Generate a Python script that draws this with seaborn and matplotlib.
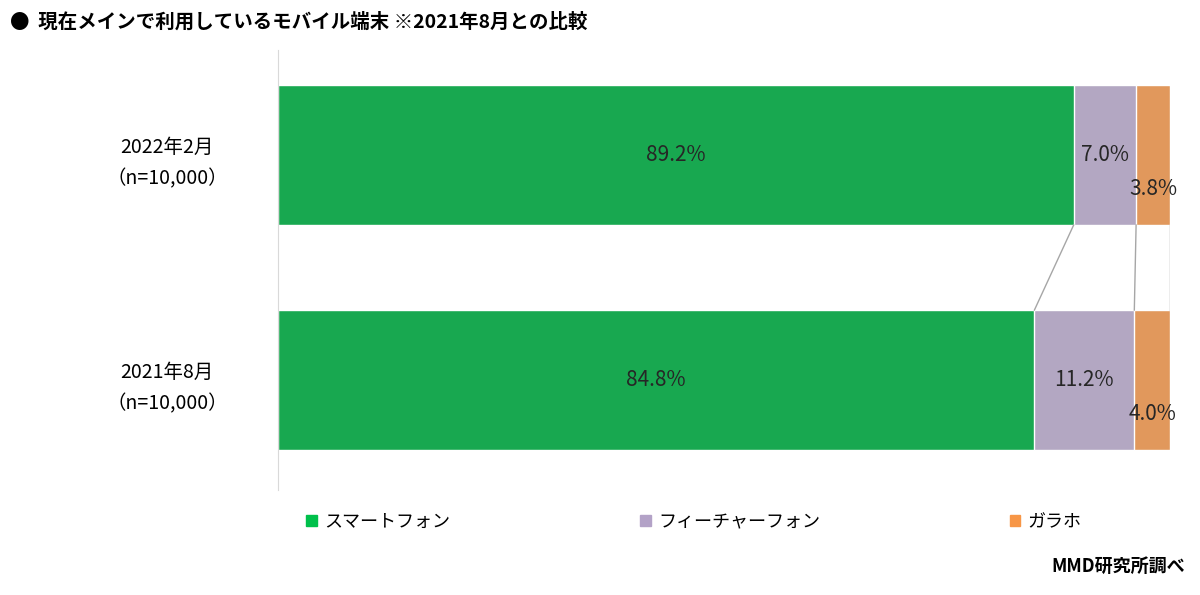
import numpy as np
import pandas as pd
import matplotlib.pyplot as plt
import seaborn as sns
from matplotlib.patches import Patch

plt.rcParams['font.family'] = 'Noto Sans CJK JP'

periods = ['2022年2月\n（n=10,000）', '2021年8月\n（n=10,000）']
devices = ['スマートフォン', 'フィーチャーフォン', 'ガラホ']
smartphone = [89.2, 84.8]
featurephone = [7.0, 11.2]
garaho = [3.8, 4.0]
colors = ['#00C04B', '#B3A2C7', '#F79646']

df = pd.DataFrame({'period': periods, devices[0]: smartphone,
                   devices[1]: featurephone, devices[2]: garaho})
vals = df[devices].to_numpy()
cum = vals.cumsum(axis=1)

fig = plt.figure(figsize=(12, 5.95), dpi=100)
ax = fig.add_axes([278/1200, 1-490/595, 892/1200, 440/595])

# stacked bars: draw the cumulative totals from the widest down
for j in reversed(range(len(devices))):
    sns.barplot(x=cum[:, j], y=df['period'], orient='h', color=colors[j],
                width=0.622, edgecolor='white', linewidth=1, ax=ax)

# connector lines between the two bars
for j in range(len(devices)):
    ax.plot([cum[0, j], cum[1, j]], [0.311, 1-0.311], color='#A6A6A6', lw=1)

for i in range(len(periods)):
    starts = cum[i] - vals[i]
    for j in range(len(devices)):
        dy = 0.15 if j == 2 else 0.0
        ax.text(starts[j] + vals[i, j]/2, i + dy, f'{vals[i, j]:.1f}%',
                ha='center', va='center', fontsize=15, color='#262626')

ax.set_xlim(0, 100)
ax.set_ylim(1.489, -0.467)
ax.set_xticks([])
ax.set_xlabel('')
ax.set_ylabel('')
ax.tick_params(axis='y', length=0, labelsize=14, pad=35)
for lab in ax.get_yticklabels():
    lab.set_horizontalalignment('center')
    lab.set_linespacing(1.7)
for s in ['top', 'right', 'bottom']:
    ax.spines[s].set_visible(False)
ax.spines['left'].set_color('#D9D9D9')
ax.tick_params(axis='y', pad=80)

handles = [Patch(color=c, label=d) for c, d in zip(colors, devices)]
fig.legend(handles=handles, loc='center left', bbox_to_anchor=(290/1200, 1-522/595),
           ncol=3, frameon=False, fontsize=13, handlelength=0.6, handleheight=0.6,
           handletextpad=0.4, columnspacing=10.5)

fig.text(10/1200, 1-22/595, '●  現在メインで利用しているモバイル端末 ※2021年8月との比較',
         fontsize=14, fontweight='bold', va='center')
fig.text(1185/1200, 1-566/595, 'MMD研究所調べ', fontsize=13, fontweight='bold',
         ha='right', va='center')

fig.savefig('out.png', dpi=100)
